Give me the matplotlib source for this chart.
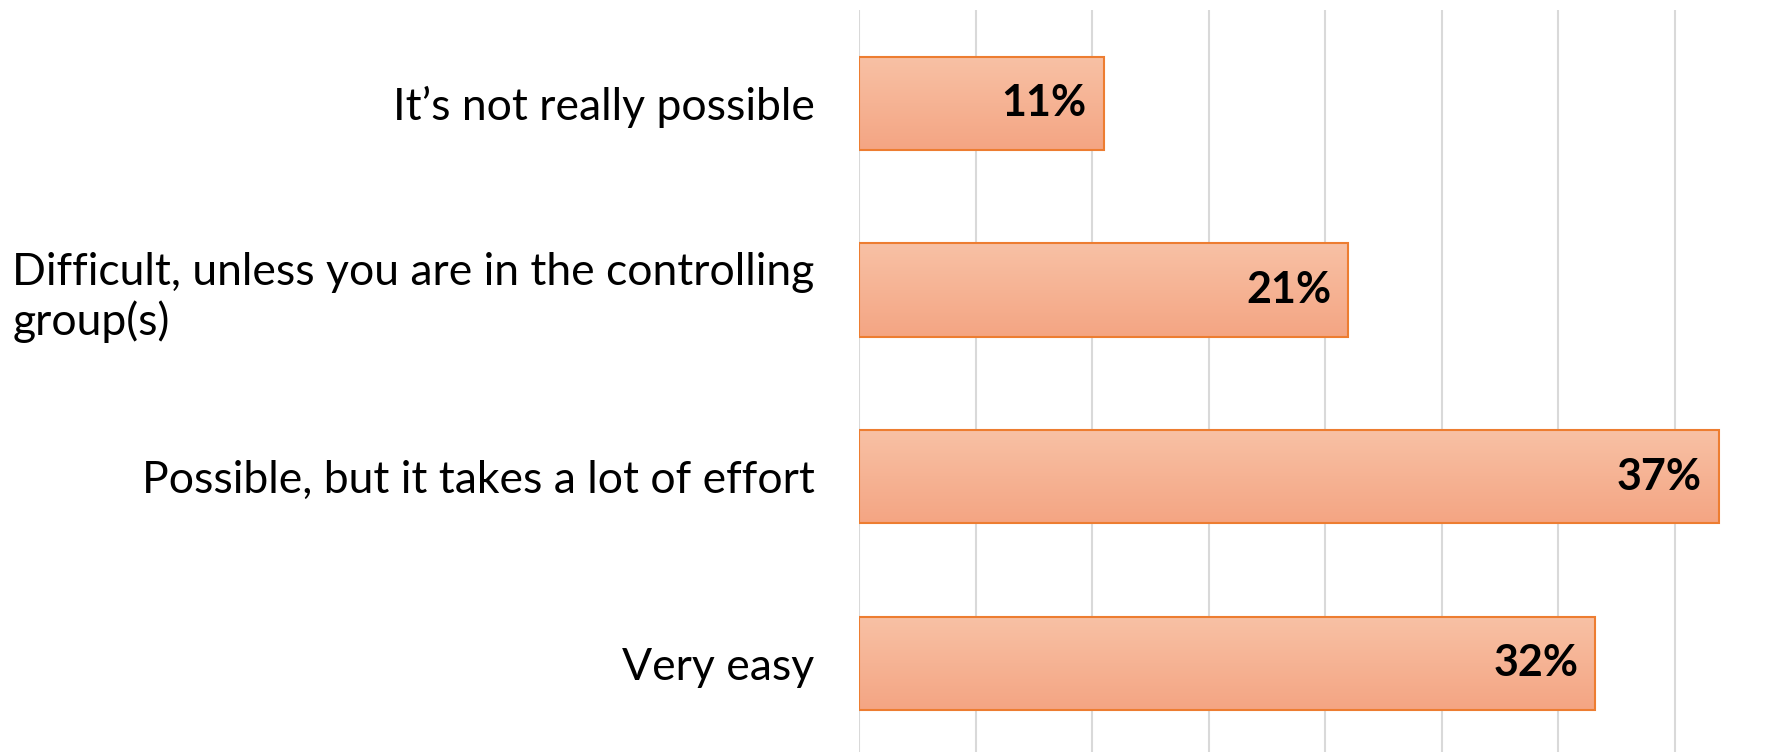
import numpy as np
import matplotlib.pyplot as plt
from matplotlib.colors import LinearSegmentedColormap

categories = ["It\u2019s not really possible",
              "Difficult, unless you are in the controlling\ngroup(s)",
              "Possible, but it takes a lot of effort",
              "Very easy"]
values = [10.5, 21.0, 36.9, 31.6]
value_labels = ["11%", "21%", "37%", "32%"]

plt.rcParams['font.family'] = ['Lato', 'DejaVu Sans']

fig = plt.figure(figsize=(17.87, 7.52), dpi=100)
ax = fig.add_axes([859 / 1787, -4.5 / 752, 932 / 1787, 746.5 / 752])

y = np.arange(len(categories))
bars = ax.barh(y, values, height=0.5, color='none', edgecolor='#ED7D31', linewidth=1.5, zorder=3)

# gradient fill, lighter at the top of each bar
cmap = LinearSegmentedColormap.from_list('grad', ['#F8C1A5', '#F4A583'])
grad = np.linspace(0, 1, 100).reshape(-1, 1)
for bar in bars:
    x0, y0 = bar.get_x(), bar.get_y()
    w, h = bar.get_width(), bar.get_height()
    im = ax.imshow(grad, cmap=cmap, aspect='auto', extent=[x0, x0 + w, y0 + h, y0],
                   origin='upper', zorder=2)
    im.set_clip_path(bar)

for bar, lab in zip(bars, value_labels):
    ax.annotate(lab, (bar.get_width(), bar.get_y() + bar.get_height() / 2),
                xytext=(-17, 0), textcoords='offset pixels', ha='right', va='center',
                fontsize=31, fontweight='bold', color='black', zorder=4)

ax.set_xlim(0, 40)
ax.set_ylim(len(categories) - 0.5, -0.5)
ax.set_xticks(np.arange(0, 40, 5))
ax.xaxis.grid(True, color='#D9D9D9', linewidth=1.5, zorder=0)
ax.set_axisbelow(True)
ax.tick_params(axis='x', length=0, labelbottom=False)
ax.tick_params(axis='y', length=0, pad=32, labelsize=32)
ax.set_yticks(y)
ax.set_yticklabels(categories)
for t in ax.get_yticklabels():
    t.set_multialignment('left')
for s in ax.spines.values():
    s.set_visible(False)

fig.savefig('out.png', dpi=100)
